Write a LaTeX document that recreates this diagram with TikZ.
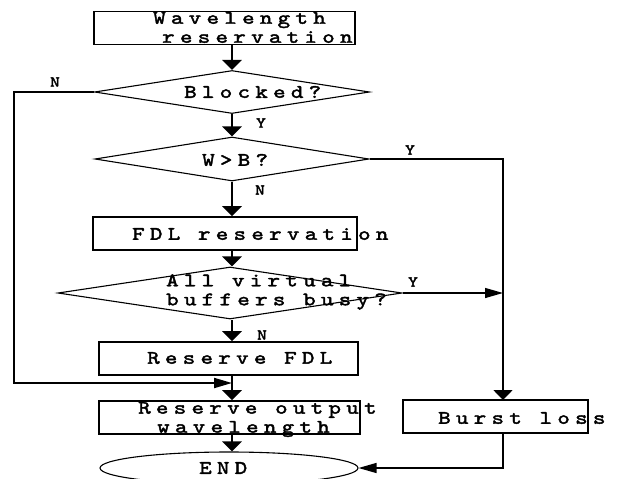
\documentclass[tikz,border=0pt]{standalone}
\usepackage{fontspec}
\usetikzlibrary{shapes.geometric, arrows.meta}
\newfontfamily\flowfont[LetterSpace=28, FakeStretch=1.25, FakeBold=2.2]{lmmono10-regular.otf}
\newfontfamily\markfont[FakeStretch=1.25, FakeBold=2.2]{lmmono10-regular.otf}

\begin{document}
\begin{tikzpicture}[x=1pt, y=-1pt,
    vtip/.style={-{Triangle[width=19pt,length=10pt]}},
    htip/.style={-{Triangle[width=10pt,length=18pt]}},
    flow/.style={line width=2.6pt, vtip},
    stepbox/.style={draw, line width=1.6pt, inner sep=0pt, minimum height=33pt},
    decision/.style={draw, diamond, line width=1.1pt, inner sep=0pt},
    txt/.style={inner sep=0pt, align=left, anchor=west, font=\flowfont\fontsize{19}{19}\selectfont},
    yn/.style={inner sep=0pt, font=\markfont\fontsize{15}{15}\selectfont}]
        \useasboundingbox (0,0) rectangle (621,479);
        % ==== BOXES AND DECISIONS ====
        \node[stepbox, minimum width=261pt] (wres) at (224.5,28) {};
        \node[decision, minimum width=275pt, minimum height=43pt] (blk) at (232,92) {};
        \node[decision, minimum width=274pt, minimum height=44pt] (wgb) at (232,159) {};
        \node[stepbox, minimum width=264pt] (fdlr) at (225,233.5) {};
        \node[decision, minimum width=344pt, minimum height=52pt] (vbb) at (230,293) {};
        \node[stepbox, minimum width=259pt] (rfdl) at (228.5,358.5) {};
        \node[stepbox, minimum width=261pt] (rout) at (229.5,417.5) {};
        \node[stepbox, minimum width=185pt] (loss) at (495.5,416.5) {};
        \node[draw, ellipse, line width=1.1pt, inner sep=0pt,
              minimum width=258pt, minimum height=32pt] (end) at (229,468) {};
        % ==== TEXTS ====
        \node[txt] (wres-t) at (153,27.5) {Wavelength\\\hspace*{9pt}reservation};
        \node[txt] (blk-t) at (184,92) {Blocked?};
        \node[txt] (wgb-t) at (202,160) {W>B?};
        \node[txt] (fdlr-t) at (132,234) {FDL reservation};
        \node[txt] (vbb-t) at (166,292) {All virtual\\buffers busy?};
        \node[txt] (rfdl-t) at (147,358) {Reserve FDL};
        \node[txt] (rout-t) at (138,419.5) {Reserve output\\\hspace*{19pt}wavelength};
        \node[txt] (end-t) at (199,468) {END};
        \node[txt] (loss-t) at (438,418) {Burst loss};
        % ==== Y / N ====
        \node[yn] (n1) at (55,82) {N};
        \node[yn] (y1) at (261,123) {Y};
        \node[yn] (y2) at (410,150) {Y};
        \node[yn] (n2) at (260,190) {N};
        \node[yn] (y3) at (413,282) {Y};
        \node[yn] (n3) at (262,335) {N};
        % ==== CONNECTORS ====
        \coordinate (mrg) at (232,383);
        \coordinate (rln) at (503,400);
        \draw[flow] (wres.south -| blk) -- (blk.north);
        \draw[flow] (blk.south) -- (wgb.north);
        \draw[flow] (wgb.south) -- (wgb.south |- fdlr.north);
        \draw[flow] (fdlr.south -| blk) -- (vbb.north -| blk);
        \draw[flow] (vbb.south -| blk) -- (rfdl.north -| blk);
        \draw[flow] (rfdl.south -| blk) -- (rout.north -| blk);
        \draw[flow] (rout.south -| blk) -- (end.north -| blk);
        \draw[line width=2pt, htip] (blk.west) -- ++(-80,0) |- (mrg);
        \draw[line width=1.8pt, vtip] (wgb.east) -| (rln);
        \draw[line width=1.3pt, htip] (vbb.east) -- (vbb.east -| rln);
        \draw[line width=1.3pt, htip] (loss.south -| rln) |- (end.east);
\end{tikzpicture}
\end{document}
